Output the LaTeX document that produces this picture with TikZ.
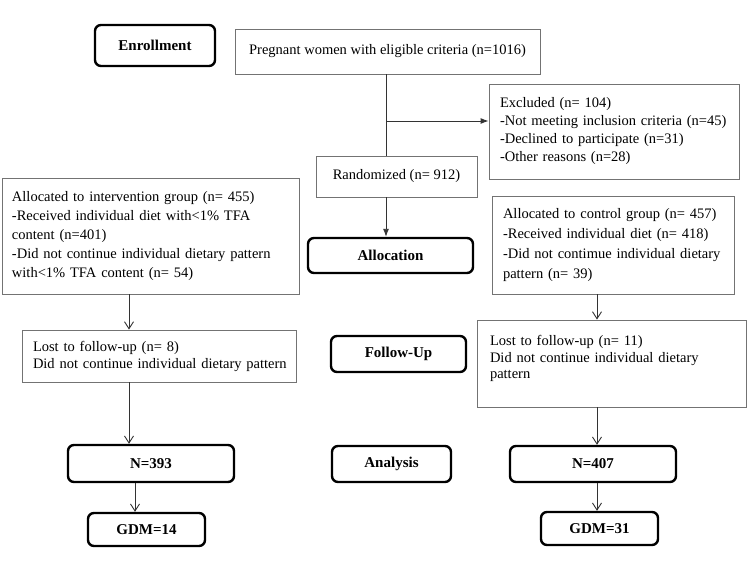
\documentclass[tikz,border=0pt]{standalone}
\usepackage{fontspec}
\setmainfont{Liberation Serif}
\usetikzlibrary{arrows.meta}
\begin{document}
\begin{tikzpicture}[x=1pt,y=-1pt,
  tbox/.style={draw=black!55, line width=0.9pt, align=left, inner xsep=0pt, inner ysep=0pt, font=\fontsize{14.5}{18}\selectfont},
  cbox/.style={draw=black!55, line width=0.9pt, align=center, inner sep=0pt, font=\fontsize{14.5}{18}\selectfont},
  rbox/.style={draw=black, line width=2.4pt, rounded corners=6pt, inner sep=0pt, font=\fontsize{15}{17}\selectfont\bfseries},
  conn/.style={draw=black!80, line width=0.9pt},
  open/.style={conn, -{Straight Barb[length=7pt,width=9pt,line width=0.9pt]}},
  filled/.style={conn, -{Latex[length=8pt,width=6pt]}}
]
\useasboundingbox (0,0) rectangle (748,562);
\fill[white] (0,0) rectangle (748,562);

% rounded stage boxes
\node[rbox, minimum width=120pt, minimum height=41pt] (enroll) at (155,45.5) {Enrollment};
\node[rbox, minimum width=165pt, minimum height=35pt] (alloc) at (390.5,255.5) {Allocation};
\node[rbox, minimum width=135pt, minimum height=36pt] (follow) at (398.5,354) {Follow-Up};
\node[rbox, minimum width=119pt, minimum height=36pt] (analysis) at (391.5,464) {Analysis};
\node[rbox, minimum width=166pt, minimum height=37pt] (n393) at (151,463.5) {N=393};
\node[rbox, minimum width=166pt, minimum height=36pt] (n407) at (593,464) {N=407};
\node[rbox, minimum width=117pt, minimum height=33pt] (gdm14) at (146.5,529.5) {GDM=14};
\node[rbox, minimum width=117pt, minimum height=33pt] (gdm31) at (599.5,528.5) {GDM=31};

% text boxes
\node[cbox, minimum width=305pt, minimum height=45pt] (preg) at (387.5,51.5) {Pregnant women with eligible criteria (n=1016)};
\node[cbox, minimum width=161pt, minimum height=41pt] (rand) at (396.5,176.5) {Randomized (n= 912)};
\node[tbox, text width=228pt, minimum height=95pt, inner xsep=11pt] (excl) at (614,131.5) {Excluded (n= 104)\\-Not meeting inclusion criteria (n=45)\\-Declined to participate (n=31)\\-Other reasons (n=28)};
\node[tbox, text width=277pt, minimum height=116pt, inner xsep=10pt, font=\fontsize{14.5}{19}\selectfont] (interv) at (150.5,236) {Allocated to intervention group (n= 455)\\-Received individual diet with<1\% TFA\\content (n=401)\\-Did not continue individual dietary pattern\\with<1\% TFA content (n= 54)};
\node[tbox, text width=220pt, minimum height=98pt, inner xsep=11pt, font=\fontsize{14.5}{20}\selectfont] (ctrl) at (613,245) {Allocated to control group (n= 457)\\-Received individual diet (n= 418)\\-Did not contimue individual dietary\\pattern (n= 39)};
\node[tbox, text width=252pt, minimum height=52pt, inner xsep=11pt, font=\fontsize{14.5}{17}\selectfont] (lostL) at (159,356) {Lost to follow-up (n= 8)\\\mbox{Did not continue individual dietary pattern}};
\node[tbox, minimum width=269pt, minimum height=87pt] (lostR) at (611.5,363.5) {};
\node[align=left, text width=243pt, inner sep=0pt, font=\fontsize{14.5}{16.5}\selectfont] (lostRt) at (611.5,358.5) {Lost to follow-up (n= 11)\\Did not continue individual dietary\\pattern};

% connectors
\coordinate (trunk) at (386,121);
\coordinate (lx) at (129,0);
\coordinate (lx2) at (135,0);
\coordinate (rx) at (597,0);
\draw[conn] (preg.south -| trunk) -- (rand.north -| trunk);
\draw[filled] (trunk) -- (excl.west |- trunk);
\draw[filled] (rand.south -| trunk) -- (alloc.north -| trunk);
\draw[open] (interv.south -| lx) -- (lostL.north -| lx);
\draw[open] (lostL.south -| lx) -- (n393.north -| lx);
\draw[open] (n393.south -| lx2) -- (gdm14.north -| lx2);
\draw[open] (ctrl.south -| rx) -- (lostR.north -| rx);
\draw[open] (lostR.south -| rx) -- (n407.north -| rx);
\draw[open] (n407.south -| rx) -- (gdm31.north -| rx);
\end{tikzpicture}
\end{document}
